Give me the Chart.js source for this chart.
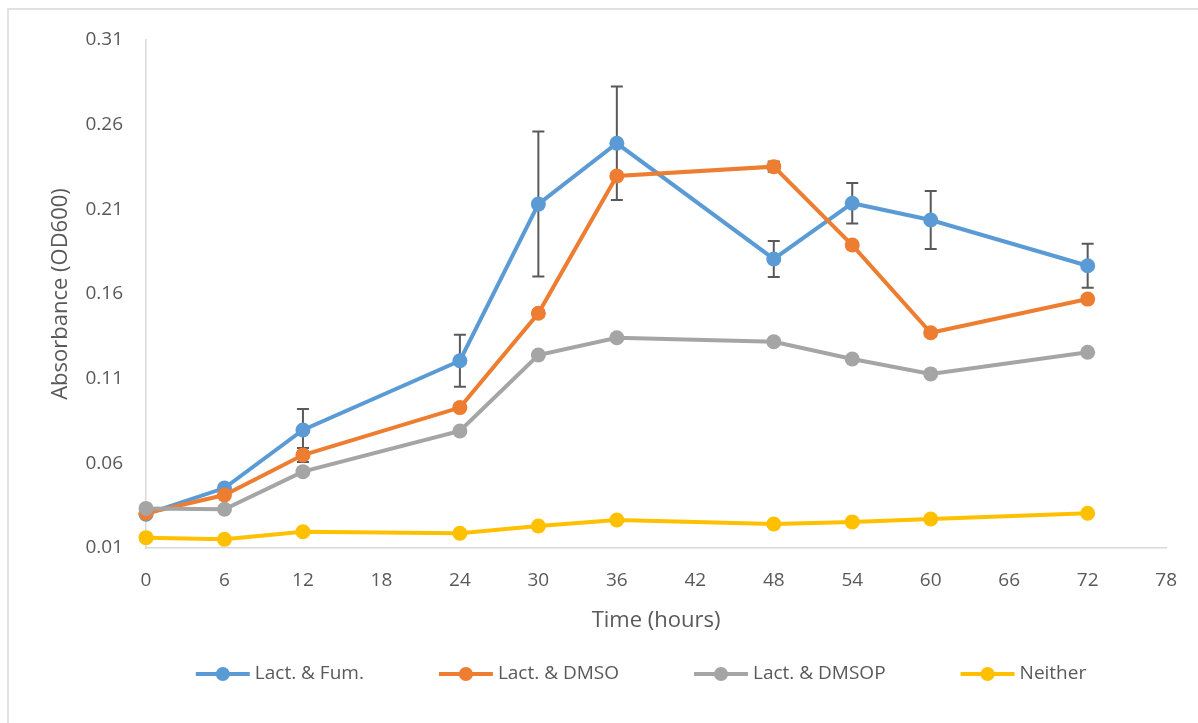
<!DOCTYPE html>
<html>
<head>
<meta charset="utf-8">
<script src="https://cdn.jsdelivr.net/npm/chart.js@4"></script>
<style>
  html, body { margin: 0; padding: 0; background: #ffffff; }
  #wrap { width: 1198px; height: 723px; position: relative; }
</style>
</head>
<body>
<div id="wrap"><canvas id="growth" width="1198" height="723"></canvas></div>
<script>
// Sampling times (hours) and axis tick values
const hours = [0, 6, 12, 24, 30, 36, 48, 54, 60, 72];
const xTicks = [0, 6, 12, 18, 24, 30, 36, 42, 48, 54, 60, 66, 72, 78];
const yTicks = [0.01, 0.06, 0.11, 0.16, 0.21, 0.26, 0.31];

// Mean OD600 per condition
const lactFum   = [0.0300, 0.0454, 0.0797, 0.1206, 0.2131, 0.2490, 0.1807, 0.2136, 0.2037, 0.1767];
const lactDmso  = [0.0305, 0.0413, 0.0649, 0.0929, 0.1486, 0.2297, 0.2352, 0.1889, 0.1371, 0.1570];
const lactDmsop = [0.0334, 0.0329, 0.0551, 0.0791, 0.1240, 0.1342, 0.1318, 0.1216, 0.1128, 0.1256];
const neither   = [0.0161, 0.0151, 0.0196, 0.0187, 0.0230, 0.0265, 0.0242, 0.0254, 0.0271, 0.0305];

// Standard deviations (± error bars)
const lactFumErr  = [0.0010, 0.0015, 0.0124, 0.0154, 0.0428, 0.0335, 0.0106, 0.0120, 0.0171, 0.0130];
const lactDmsoErr = [0.0010, 0.0015, 0.0041, 0.0020, 0.0020, 0.0020, 0.0030, 0.0020, 0.0020, 0.0020];

const seriesNames  = ['Lact. & Fum.', 'Lact. & DMSO', 'Lact. & DMSOP', 'Neither'];
const seriesColors = ['#5B9BD5', '#ED7D31', '#A5A5A5', '#FFC000'];

const FONT = "'Open Sans', 'Noto Sans', sans-serif";
const TEXT = '#595959';

function toPoints(ys) { return hours.map((h, i) => ({ x: h, y: ys[i] })); }

function makeSet(i, ys, errs, order) {
  return {
    label: seriesNames[i],
    data: toPoints(ys),
    errors: errs || null,
    borderColor: seriesColors[i],
    backgroundColor: seriesColors[i],
    borderWidth: 4,
    pointRadius: 7.5,
    pointHoverRadius: 7.5,
    pointBorderWidth: 0,
    tension: 0,
    clip: false,
    order: order
  };
}

// Outer frame of the chart
const framePlugin = {
  id: 'frame',
  beforeDraw(chart) {
    const ctx = chart.ctx;
    ctx.save();
    ctx.fillStyle = '#ffffff';
    ctx.fillRect(0, 0, chart.width, chart.height);
    ctx.strokeStyle = '#D9D9D9';
    ctx.lineWidth = 1.5;
    ctx.beginPath();
    ctx.moveTo(8, chart.height);
    ctx.lineTo(8, 9);
    ctx.lineTo(chart.width, 9);
    ctx.stroke();
    ctx.restore();
  }
};

// Vertical error bars with caps, drawn beneath the series
const errorBarPlugin = {
  id: 'errorBars',
  beforeDatasetsDraw(chart) {
    const ctx = chart.ctx;
    const xs = chart.scales.x, ys = chart.scales.y;
    ctx.save();
    ctx.strokeStyle = '#595959';
    ctx.lineWidth = 2;
    chart.data.datasets.forEach(ds => {
      if (!ds.errors) return;
      ds.data.forEach((p, i) => {
        const e = ds.errors[i];
        const px = xs.getPixelForValue(p.x);
        const top = ys.getPixelForValue(p.y + e);
        const bot = ys.getPixelForValue(p.y - e);
        ctx.beginPath();
        ctx.moveTo(px, top); ctx.lineTo(px, bot);
        ctx.moveTo(px - 6, top); ctx.lineTo(px + 6, top);
        ctx.moveTo(px - 6, bot); ctx.lineTo(px + 6, bot);
        ctx.stroke();
      });
    });
    ctx.restore();
  }
};

// Legend row: line sample with marker, then the series name
const legendPlugin = {
  id: 'lineLegend',
  afterDraw(chart) {
    const ctx = chart.ctx;
    ctx.save();
    ctx.font = '19px ' + FONT;
    const lineW = 54, gapText = 5, gapItem = 75;
    const items = chart.data.datasets.map(ds => ({
      label: ds.label, color: ds.borderColor,
      w: lineW + gapText + ctx.measureText(ds.label).width
    }));
    const total = items.reduce((s, it) => s + it.w, 0) + gapItem * (items.length - 1);
    let x = 641 - total / 2;
    const y = 674;
    items.forEach(it => {
      ctx.strokeStyle = it.color;
      ctx.lineWidth = 4;
      ctx.beginPath();
      ctx.moveTo(x, y); ctx.lineTo(x + lineW, y);
      ctx.stroke();
      ctx.fillStyle = it.color;
      ctx.beginPath();
      ctx.arc(x + lineW / 2, y, 7, 0, Math.PI * 2);
      ctx.fill();
      ctx.fillStyle = TEXT;
      ctx.textAlign = 'left';
      ctx.textBaseline = 'middle';
      ctx.fillText(it.label, x + lineW + gapText, y);
      x += it.w + gapItem;
    });
    ctx.restore();
  }
};

new Chart(document.getElementById('growth'), {
  type: 'line',
  data: {
    datasets: [
      makeSet(0, lactFum, lactFumErr, 4),
      makeSet(1, lactDmso, lactDmsoErr, 3),
      makeSet(2, lactDmsop, null, 2),
      makeSet(3, neither, null, 1)
    ]
  },
  options: {
    responsive: false,
    animation: false,
    devicePixelRatio: 1,
    layout: { padding: { left: 0, right: 30, top: 40, bottom: 75 } },
    plugins: {
      legend: { display: false },
      tooltip: { enabled: false }
    },
    scales: {
      x: {
        type: 'linear',
        min: 0, max: 78,
        afterBuildTicks(scale) { scale.ticks = xTicks.map(v => ({ value: v })); },
        afterFit(scale) { scale.height = 100; },
        grid: { display: true, drawOnChartArea: false, drawTicks: false },
        border: { display: true, color: '#D9D9D9', width: 1.5 },
        ticks: { color: TEXT, font: { family: FONT, size: 19 }, padding: 21, maxRotation: 0, autoSkip: false },
        title: { display: true, text: 'Time (hours)', color: TEXT, font: { family: FONT, size: 22 }, padding: { top: 0, bottom: 14 } }
      },
      y: {
        type: 'linear',
        min: 0.01, max: 0.31,
        afterBuildTicks(scale) { scale.ticks = yTicks.map(v => ({ value: v })); },
        afterFit(scale) { scale.width = 146; },
        grid: { display: true, drawOnChartArea: false, drawTicks: false },
        border: { display: true, color: '#D9D9D9', width: 1.5 },
        ticks: { color: TEXT, font: { family: FONT, size: 19 }, padding: 23, callback: v => v.toFixed(2) },
        title: { display: true, text: 'Absorbance (OD600)', color: TEXT, font: { family: FONT, size: 22 }, padding: { top: 48, bottom: 0 } }
      }
    }
  },
  plugins: [framePlugin, errorBarPlugin, legendPlugin]
});
</script>
</body>
</html>
